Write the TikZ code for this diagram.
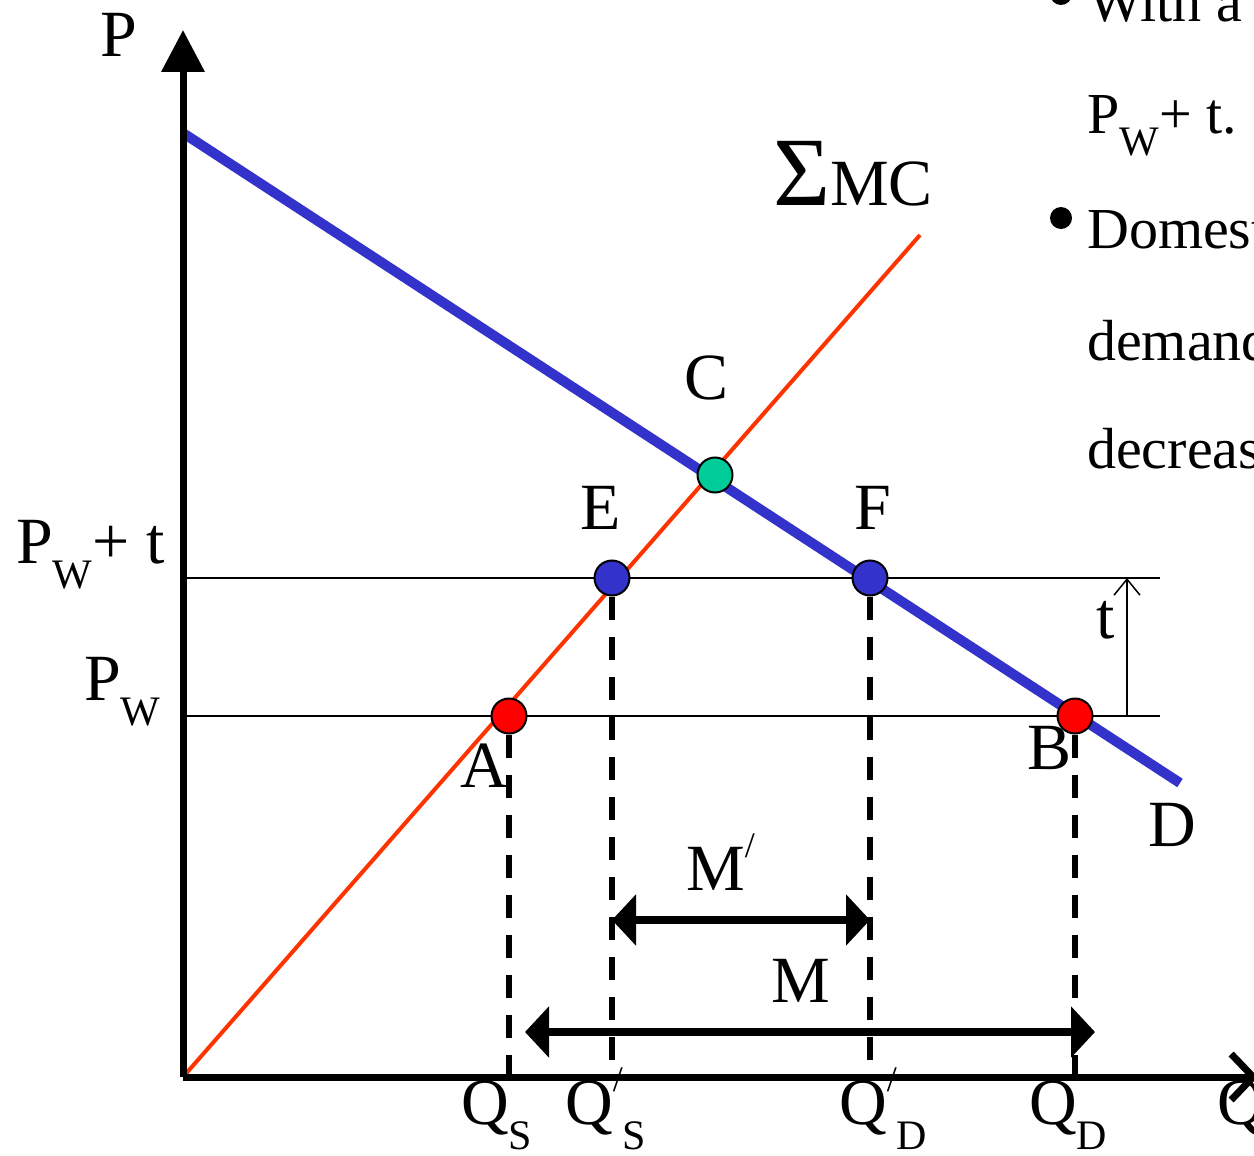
\documentclass[tikz,border=0pt]{standalone}
\usepackage{fontspec}
\setmainfont{Liberation Serif}
\usetikzlibrary{arrows.meta}
\newcommand{\lowsub}[1]{\raisebox{-0.38em}{\fontsize{42}{42}\selectfont #1}}
\newcommand{\hipr}{\raisebox{0.5em}{\fontsize{36}{36}\selectfont /}}
\definecolor{dblue}{RGB}{51,51,204}
\definecolor{sred}{RGB}{255,51,0}
\definecolor{cgreen}{RGB}{0,204,153}

\begin{document}
\begin{tikzpicture}[x=1pt, y=-1pt,
  font=\fontsize{66}{70}\selectfont,
  lbl/.style={inner sep=0pt},
  side/.style={inner sep=0pt, anchor=base west, font=\fontsize{58}{62}\selectfont},
  dot/.style={circle, draw=black, line width=2pt, minimum size=35pt, inner sep=0pt},
  bul/.style={circle, fill=black, minimum size=22pt, inner sep=0pt},
  axis/.style={line width=7pt},
  level/.style={line width=1.5pt},
  drop/.style={line width=5.5pt, dash pattern=on 23pt off 17pt},
  span/.style={line width=8pt, {Triangle[length=24pt,width=50pt]}-{Triangle[length=24pt,width=50pt]}}
]
\useasboundingbox (0,0) rectangle (1254,1156);
\clip (0,0) rectangle (1254,1156);

\coordinate (O) at (183,1077);
\coordinate (ytop) at (183,30);
\coordinate (xend) at (1258,1077);
\coordinate (dstart) at (183,133);
\coordinate (dend) at (1180,783);
\coordinate (send) at (920,235);
\coordinate (ptl) at (183,578);
\coordinate (ptr) at (1160,578);
\coordinate (pwl) at (183,716);
\coordinate (pwr) at (1160,716);
\coordinate (qs) at (509,1077);
\coordinate (qsp) at (612,1077);
\coordinate (qdp) at (870,1077);
\coordinate (qd) at (1075,1077);
\coordinate (mpl) at (612,920);
\coordinate (mpr) at (870,920);
\coordinate (ml) at (525,1032);
\coordinate (mr) at (1095,1032);
\coordinate (tb) at (1127,716);
\coordinate (tt) at (1127,578);

\draw[level] (ptl) -- (ptr);
\draw[level] (pwl) -- (pwr);
\draw[level, -{Straight Barb[length=16pt,width=26pt]}] (tb) -- (tt);
\draw[sred, line width=4pt] (O) -- (send);
\draw[dblue, line width=10pt] (dstart) -- (dend);
\draw[axis, -{Triangle[length=42pt,width=42pt]}] (O) -- (ytop);
\draw[axis, -{Straight Barb[length=22pt,width=46pt]}] (O) -- (xend);

\node[dot, fill=red] (A) at (509,716) {};
\node[dot, fill=dblue] (E) at (612,578) {};
\node[dot, fill=cgreen] (C) at (715,475) {};
\node[dot, fill=dblue] (F) at (870,578) {};
\node[dot, fill=red] (B) at (1075,716) {};

\draw[drop] (A) -- (qs);
\draw[drop] (E) -- (qsp);
\draw[drop] (F) -- (qdp);
\draw[drop] (B) -- (qd);
\draw[span] (mpl) -- (mpr);
\draw[span] (ml) -- (mr);

\node[lbl] (plab) at (119,35) {P};
\node[lbl, anchor=base west] (pwtlab) at (16,563) {P\lowsub{W}+ t};
\node[lbl, anchor=base west] (pwlab) at (84,700) {P\lowsub{W}};
\node[lbl, anchor=base west] (mclab) at (773,205) {{\fontsize{98}{98}\selectfont Σ}MC};
\node[lbl] (clab) at (707,378) {C};
\node[lbl] (elab) at (601,508) {E};
\node[lbl] (flab) at (873,508) {F};
\node[lbl] (alab) at (484,766) {A};
\node[lbl] (blab) at (1050,748) {B};
\node[lbl] (dlab) at (1172,825) {D};
\node[lbl] (tlab) at (1106,620) {t};
\node[lbl, anchor=base west] (mplab) at (686,890) {M\hipr};
\node[lbl, anchor=base west] (mlab) at (771,1002) {M};
\node[lbl, anchor=base west] (qslab) at (461,1124) {Q\lowsub{S}};
\node[lbl, anchor=base west] (qsplab) at (565,1124) {Q\hipr\lowsub{S}};
\node[lbl, anchor=base west] (qdplab) at (839,1124) {Q\hipr\lowsub{D}};
\node[lbl, anchor=base west] (qdlab) at (1029,1124) {Q\lowsub{D}};
\node[lbl, anchor=base west] (qlab) at (1217,1124) {Q};

\node[bul] (b1) at (1061,-6) {};
\node[side] (r1) at (1088,22) {With a tariff};
\node[side] (r2) at (1087,133) {P\lowsub{W}+ t.};
\node[bul] (b2) at (1061,218) {};
\node[side] (r3) at (1087,248) {Domestic};
\node[side] (r4) at (1087,360) {demand};
\node[side] (r5) at (1087,468) {decreases};
\end{tikzpicture}
\end{document}
